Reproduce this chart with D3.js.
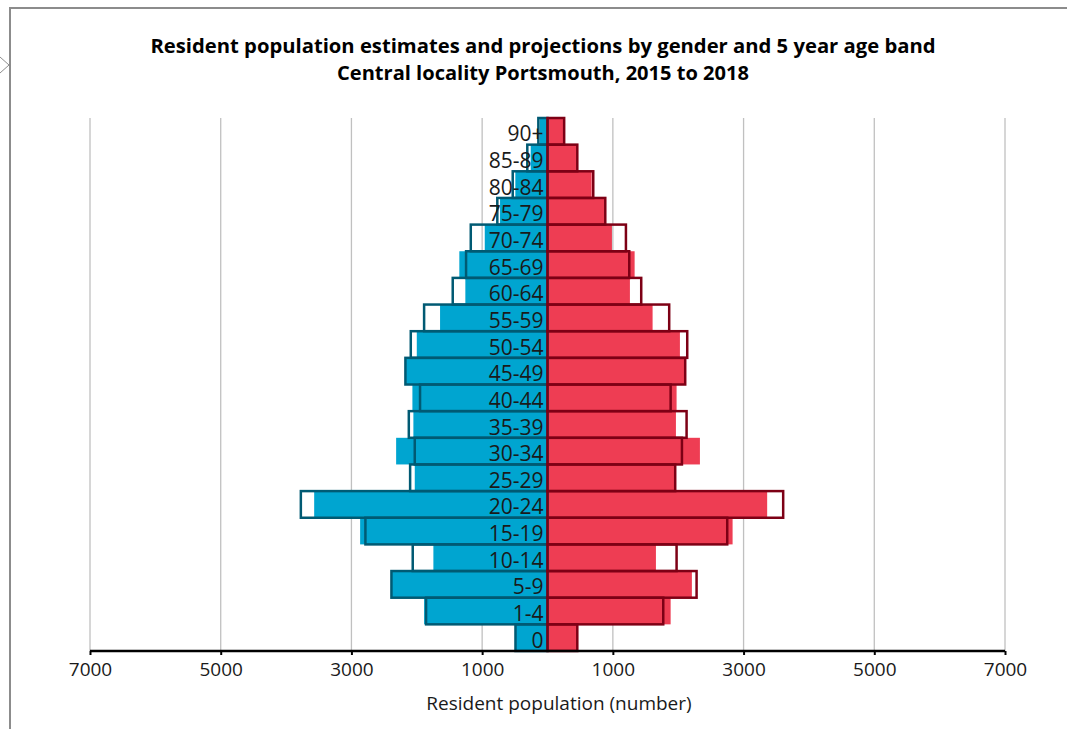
<!DOCTYPE html>
<html>
<head>
<meta charset="utf-8">
<script src="https://cdn.jsdelivr.net/npm/d3@7/dist/d3.min.js"></script>
<style>
html,body{margin:0;padding:0;background:#fff;}
svg{display:block;font-family:"Open Sans","Noto Sans",sans-serif;}
</style>
</head>
<body>
<svg id="chart" width="1067" height="729"></svg>
<script>
const ageBands = ["90+","85-89","80-84","75-79","70-74","65-69","60-64","55-59","50-54","45-49","40-44","35-39","30-34","25-29","20-24","15-19","10-14","5-9","1-4","0"];
const maleFilled   = [120,257,492,726,960,1349,1257,1644,2000,2170,2067,2052,2316,2031,3570,2867,1746,2380,1888,482];
const maleOutline  = [140,309,532,768,1174,1246,1450,1888,2092,2174,1950,2122,2031,2102,3774,2786,2062,2388,1858,490];
const femaleFilled = [245,445,676,870,986,1333,1261,1608,2026,2100,1975,1965,2332,1950,3361,2832,1659,2209,1884,450];
const femaleOutline= [255,456,700,884,1200,1251,1434,1862,2138,2107,1884,2128,2057,1954,3606,2750,1975,2281,1771,456];
const tickValues = [-7000,-5000,-3000,-1000,1000,3000,5000,7000];
const titleLines = ["Resident population estimates and projections by gender and 5 year age band","Central locality Portsmouth, 2015 to 2018"];
const xTitle = "Resident population (number)";

const svg = d3.select("#chart");
const x = d3.scaleLinear().domain([-7000,7000]).range([90,1005]);
const y = d3.scaleBand().domain(ageBands).range([118,651]).padding(0);

// frame
svg.append("path").attr("d","M10,729V8H1067").attr("fill","none").attr("stroke","#8c8c8c").attr("stroke-width",2);
svg.append("path").attr("d","M0,57L9,65L0,73").attr("fill","none").attr("stroke","#8c8c8c").attr("stroke-width",1);

// title
svg.selectAll("text.title").data(titleLines).enter().append("text")
  .attr("x",543).attr("y",(d,i)=>53+i*27).attr("text-anchor","middle")
  .attr("font-weight","bold").attr("font-size",20).attr("fill","#000")
  .attr("textLength",(d,i)=>i===0?785:412).attr("lengthAdjust","spacingAndGlyphs").text(d=>d);

// gridlines
svg.append("g").selectAll("line").data(tickValues).enter().append("line")
  .attr("x1",d=>x(d)).attr("x2",d=>x(d)).attr("y1",118).attr("y2",651)
  .attr("stroke","#c0c0c0").attr("stroke-width",1.3);

const idx = d3.range(ageBands.length);
// filled bars
svg.append("g").selectAll("rect").data(idx).enter().append("rect")
  .attr("x",i=>x(-maleFilled[i])).attr("width",i=>x(0)-x(-maleFilled[i]))
  .attr("y",i=>y(ageBands[i])).attr("height",y.bandwidth()).attr("fill","#00a5d0");
svg.append("g").selectAll("rect").data(idx).enter().append("rect")
  .attr("x",x(0)).attr("width",i=>x(femaleFilled[i])-x(0))
  .attr("y",i=>y(ageBands[i])).attr("height",y.bandwidth()).attr("fill","#ee3d53");
// outline bars
svg.append("g").selectAll("rect").data(idx).enter().append("rect")
  .attr("x",i=>x(-maleOutline[i])).attr("width",i=>x(0)-x(-maleOutline[i]))
  .attr("y",i=>y(ageBands[i])).attr("height",y.bandwidth())
  .attr("fill","none").attr("stroke","#005a73").attr("stroke-width",2.5);
svg.append("g").selectAll("rect").data(idx).enter().append("rect")
  .attr("x",x(0)).attr("width",i=>x(femaleOutline[i])-x(0))
  .attr("y",i=>y(ageBands[i])).attr("height",y.bandwidth())
  .attr("fill","none").attr("stroke","#7d0015").attr("stroke-width",2.5);

// age labels
svg.append("g").selectAll("text").data(ageBands).enter().append("text")
  .attr("x",x(0)-4).attr("y",d=>y(d)+y.bandwidth()/2+2.5).attr("dy","0.36em")
  .attr("text-anchor","end").attr("font-size",21).attr("fill","#1a1a1a").text(d=>d);

// axis
const axis = d3.axisBottom(x).tickValues(tickValues).tickSize(4)
  .tickFormat(d=>String(Math.abs(d)));
const g = svg.append("g").attr("transform","translate(0,651)").call(axis);
g.select(".domain").attr("stroke","#000").attr("stroke-width",2.5).attr("d","M90,0H1005");
g.selectAll(".tick line").attr("stroke","#000").attr("stroke-width",2);
g.selectAll(".tick text").attr("font-size",19).attr("fill","#1a1a1a")
  .attr("font-family","'Open Sans','Noto Sans',sans-serif").attr("y",12);

svg.append("text").attr("x",559).attr("y",710).attr("text-anchor","middle")
  .attr("font-size",19).attr("fill","#1a1a1a").text(xTitle);
</script>
</body>
</html>
